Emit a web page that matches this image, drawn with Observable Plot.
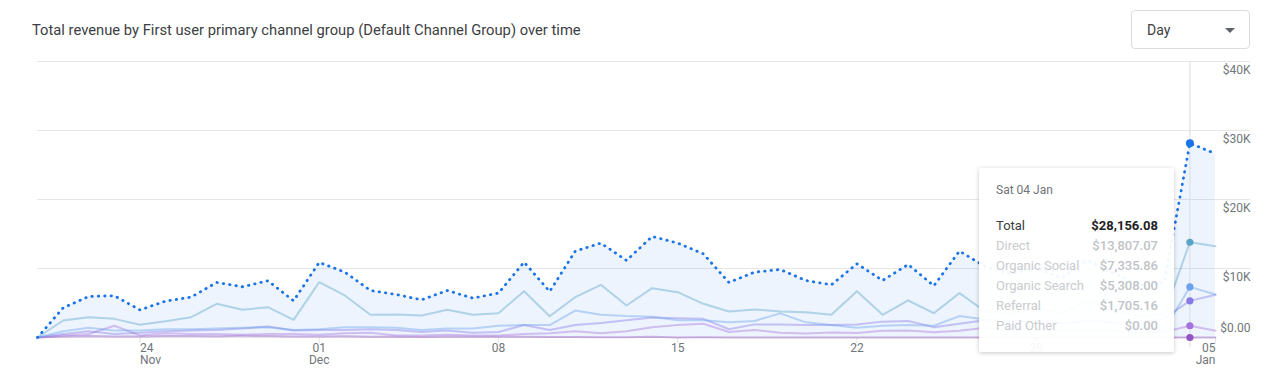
<!DOCTYPE html>
<html>
<head>
<meta charset="utf-8">
<script src="https://cdn.jsdelivr.net/npm/d3@7"></script>
<script src="https://cdn.jsdelivr.net/npm/@observablehq/plot@0.6"></script>
<style>
  body { margin: 0; background: #fff; font-family: Roboto, "Noto Sans", sans-serif; }
  #wrap { position: relative; width: 1280px; height: 375px; overflow: hidden; background: #fff; }
  #title { position: absolute; left: 32px; top: 20px; font-size: 14.75px; line-height: 20px; color: #3c4043; white-space: nowrap; }
  #dd { position: absolute; left: 1131px; top: 10px; width: 119px; height: 39px; box-sizing: border-box; border: 1px solid #dadce0; border-radius: 4px; }
  #dd .lbl { position: absolute; left: 15px; top: 9px; font-size: 14px; line-height: 20px; color: #3c4043; }
  #dd .caret { position: absolute; left: 93px; top: 17px; width: 0; height: 0; border-left: 5px solid transparent; border-right: 5px solid transparent; border-top: 5px solid #5f6368; }
  #chart { position: absolute; left: 0; top: 50px; }
  #tip { position: absolute; left: 979px; top: 168px; width: 195px; height: 184px; background: rgba(255,255,255,0.94); box-shadow: 0 1px 4px rgba(0,0,0,0.22); border-radius: 2px; }
  #tip .tdate { position: absolute; left: 17px; top: 12px; font-size: 12px; line-height: 20px; color: #70757a; }
  #tip .row { position: absolute; left: 17px; right: 16px; height: 20px; font-size: 13px; line-height: 20px; display: flex; justify-content: space-between; white-space: nowrap; }
  #tip .row.total .k { color: #3c4043; }
  #tip .row.total .v { color: #202124; font-weight: 700; }
  #tip .row.faded .k { color: #c9cbce; }
  #tip .row.faded .v { color: #c0c3c7; font-weight: 500; }
</style>
</head>
<body>
<div id="wrap">
  <div id="title">Total revenue by First user primary channel group (Default Channel Group) over time</div>
  <div id="dd"><span class="lbl">Day</span><span class="caret"></span></div>
  <div id="chart"></div>
  <div id="tip"></div>
</div>
<script>
// ---- data ----
const dates = [
  "2024-11-20","2024-11-21","2024-11-22","2024-11-23","2024-11-24","2024-11-25","2024-11-26","2024-11-27","2024-11-28","2024-11-29","2024-11-30",
  "2024-12-01","2024-12-02","2024-12-03","2024-12-04","2024-12-05","2024-12-06","2024-12-07","2024-12-08","2024-12-09","2024-12-10",
  "2024-12-11","2024-12-12","2024-12-13","2024-12-14","2024-12-15","2024-12-16","2024-12-17","2024-12-18","2024-12-19","2024-12-20",
  "2024-12-21","2024-12-22","2024-12-23","2024-12-24","2024-12-25","2024-12-26","2024-12-27","2024-12-28","2024-12-29","2024-12-30",
  "2024-12-31","2025-01-01","2025-01-02","2025-01-03","2025-01-04","2025-01-05"
];
const total = [0, 4300, 5950, 6050, 4000, 5270, 5850, 7980, 7350, 8220, 5320,
  10880, 9470, 6815, 6235, 5460, 6815, 5700, 6430, 10920, 6670,
  12520, 13680, 11165, 14645, 13680, 12130, 7975, 9470, 9860, 8265,
  7640, 10680, 8265, 10585, 7495, 12520, 10300, 9200, 10100, 8600,
  11200, 9400, 7600, 8050, 28156.08, 26640];
const direct = [0, 2465, 2950, 2700, 1840, 2370, 2950, 4885, 4010, 4400, 2560,
  8020, 6090, 3290, 3335, 3190, 4010, 3290, 3525, 6715, 3090,
  5845, 7640, 4640, 7150, 6570, 4885, 3770, 4060, 3770, 3670,
  3290, 6715, 3290, 5365, 3525, 6430, 3800, 3400, 4200, 3500,
  5200, 4000, 3000, 3390, 13807.07, 13240];
const organicSocial = [0, 900, 1400, 1000, 1000, 1200, 1200, 1300, 1400, 1500, 1100,
  1200, 1500, 1500, 1400, 1100, 1300, 1300, 1700, 1800, 1800,
  3900, 3300, 3100, 3000, 2500, 2500, 2200, 2400, 3500, 2200,
  1800, 1400, 1700, 1800, 1700, 3100, 2600, 2300, 2400, 2000,
  2500, 2100, 1700, 1060, 7335.86, 6235];
const organicSearch = [0, 500, 900, 500, 700, 900, 1000, 1100, 1300, 1600, 1000,
  1100, 1100, 1200, 1100, 800, 1000, 700, 800, 1800, 1100,
  1800, 2100, 2500, 2900, 2800, 2700, 1200, 1900, 1900, 1800,
  1800, 1900, 2300, 2400, 1500, 2000, 2500, 2400, 2400, 2100,
  2400, 2300, 2100, 2800, 5308.00, 6200];
const referral = [0, 300, 500, 1700, 300, 600, 500, 500, 400, 500, 500,
  400, 600, 700, 300, 300, 400, 300, 300, 500, 600,
  900, 600, 900, 1500, 1800, 2000, 800, 1100, 680, 590,
  740, 660, 970, 1010, 760, 980, 1400, 1100, 1100, 1000,
  1100, 1000, 800, 800, 1705.16, 965];
const paidOther = [0, 135, 200, 150, 160, 200, 200, 195, 240, 220, 160,
  160, 180, 125, 100, 70, 105, 110, 105, 105, 80,
  75, 40, 25, 95, 10, 45, 5, 10, 10, 5,
  10, 5, 5, 10, 10, 10, 0, 0, 0, 0,
  0, 0, 0, 0, 0.00, 0];
const seriesNames = ["Direct", "Organic Social", "Organic Search", "Referral", "Paid Other"];
const seriesColors = ["#5aa3c8", "#6aa3ec", "#8878e6", "#a672dc", "#9552c2"];
const seriesValues = [direct, organicSocial, organicSearch, referral, paidOther];
const yTicks = [0, 10000, 20000, 30000, 40000];
const yTickLabels = ["$0.00", "$10K", "$20K", "$30K", "$40K"];
const xTickDates = ["2024-11-24", "2024-12-01", "2024-12-08", "2024-12-15", "2024-12-22", "2024-12-29", "2025-01-05"];
const xTickLabels = ["24\nNov", "01\nDec", "08", "15", "22", "29", "05\nJan"];
const hoverDate = "2025-01-04";
const totalColor = "#1a73e8";

// ---- tables ----
const parse = d3.utcParse("%Y-%m-%d");
const totalRows = dates.map((d, i) => ({date: parse(d), value: total[i]}));
const rows = seriesNames.flatMap((s, k) => dates.map((d, i) => ({date: parse(d), value: seriesValues[k][i], series: s})));
const rowsReversed = seriesNames.slice().reverse().flatMap(s => rows.filter(r => r.series === s));
const yTable = yTicks.map((v, i) => ({v, label: yTickLabels[i]}));
const xTable = xTickDates.map((d, i) => ({date: parse(d), label: xTickLabels[i]}));
const hover = parse(hoverDate);
const hi = dates.indexOf(hoverDate);

const textStyle = {fill: "#70757a", fontSize: 12};

const chart = Plot.plot({
  width: 1280,
  height: 320,
  marginTop: 11,
  marginBottom: 33,
  marginLeft: 37,
  marginRight: 65,
  style: {fontFamily: "Roboto, 'Noto Sans', sans-serif", fontSize: "12px", background: "transparent", overflow: "visible"},
  x: {type: "utc", domain: [parse(dates[0]), parse(dates[dates.length - 1])], axis: null},
  y: {domain: [0, 40000], axis: null},
  color: {domain: seriesNames, range: seriesColors},
  marks: [
    Plot.ruleY(yTable.filter(d => d.v > 0), {y: "v", stroke: "#e6e6e6", insetRight: -35}),
    Plot.ruleY([0], {stroke: "#e3e3e3"}),
    Plot.ruleX(xTable, {x: "date", y1: 0, y2: 0, insetBottom: -6, stroke: "#e3e3e3"}),
    Plot.text(yTable.filter(d => d.v > 0), {y: "v", text: "label", frameAnchor: "right", textAnchor: "end", dx: 35, dy: 9, ...textStyle}),
    Plot.text(yTable.filter(d => d.v === 0), {y: "v", text: "label", frameAnchor: "right", textAnchor: "end", dx: 35, dy: -9, ...textStyle}),
    Plot.text(xTable.slice(0, 1), {x: "date", text: "label", frameAnchor: "bottom", lineAnchor: "top", textAnchor: "start", dy: 6, ...textStyle}),
    Plot.text(xTable.slice(1, -1), {x: "date", text: "label", frameAnchor: "bottom", lineAnchor: "top", textAnchor: "middle", dy: 6, ...textStyle}),
    Plot.text(xTable.slice(-1), {x: "date", text: "label", frameAnchor: "bottom", lineAnchor: "top", textAnchor: "end", dy: 6, ...textStyle}),
    Plot.areaY(totalRows, {x: "date", y: "value", fill: totalColor, fillOpacity: 0.08}),
    Plot.ruleX([hover], {stroke: "#dadce0", strokeWidth: 1, insetBottom: -10}),
    Plot.line(rowsReversed, {x: "date", y: "value", z: "series", stroke: "series", strokeWidth: 2, strokeOpacity: 0.42}),
    Plot.line(totalRows, {x: "date", y: "value", stroke: totalColor, strokeWidth: 2.8, strokeLinecap: "round", strokeDasharray: "0.4,6"}),
    Plot.dot(rowsReversed.filter(d => +d.date === +hover), {x: "date", y: "value", fill: "series", r: 3.6}),
    Plot.dot(totalRows.filter(d => +d.date === +hover), {x: "date", y: "value", fill: totalColor, r: 4})
  ]
});
document.getElementById("chart").appendChild(chart);

// ---- tooltip (from the same data) ----
const fmt = d3.format("$,.2f");
const tip = document.getElementById("tip");
let html = `<div class="tdate">${d3.utcFormat("%a %d %b")(hover)}</div>`;
const tipRows = [["Total", total[hi], "total"]].concat(seriesNames.map((s, k) => [s, seriesValues[k][hi], "faded"]));
tipRows.forEach(([k, v, cls], j) => {
  html += `<div class="row ${cls}" style="top:${48 + 20 * j}px"><span class="k">${k}</span><span class="v">${fmt(v)}</span></div>`;
});
tip.innerHTML = html;
</script>
</body>
</html>
